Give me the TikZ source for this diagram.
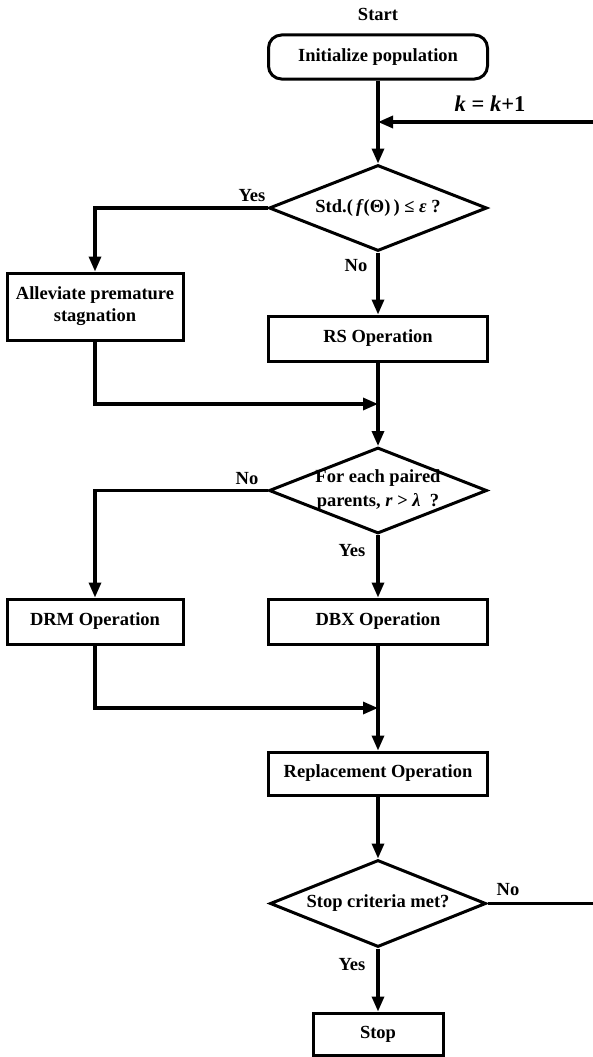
\documentclass[tikz,border=0pt]{standalone}
\usepackage{fontspec}
\setmainfont{Liberation Serif}
\usetikzlibrary{arrows.meta,shapes.geometric}
\begin{document}
\begin{tikzpicture}[x=1pt,y=-1pt,
  every node/.style={font=\fontsize{18.5}{21}\selectfont\bfseries},
  proc/.style={draw,line width=3pt,minimum width=219pt,minimum height=45pt,inner sep=0pt,align=center},
  term/.style={proc,rounded corners=13pt,minimum height=44pt},
  dec/.style={draw,diamond,line width=3pt,aspect=2.52,minimum width=218pt,minimum height=86pt,inner sep=0pt,align=center},
  lab/.style={inner sep=0pt},
  conn/.style={line width=3.2pt},
  arr/.style={conn,-{Triangle[length=15pt,width=12pt]}},
]
\useasboundingbox (0,0) rectangle (592,1057);
\node[lab] (start) at (378,14) {Start};
\node[term] (init) at (378,57) {Initialize population};
\node[dec] (d1) at (378,208) {Std.(\,\textit{f}(Θ)\,) ≤ \textit{ε} ?};
\node[proc,minimum width=176pt,minimum height=67pt,font=\fontsize{18.5}{22}\selectfont\bfseries] (allev) at (95,306.5) {Alleviate premature\\stagnation};
\node[proc] (rs) at (378,338.5) {RS Operation};
\node[dec,inner sep=-10pt,font=\fontsize{18.5}{24}\selectfont\bfseries] (d2) at (378,490.5) {For each paired\\parents, \textit{r} > \textit{λ}\enspace?};
\node[proc,minimum width=176pt] (drm) at (95,621.5) {DRM Operation};
\node[proc] (dbx) at (378,621.5) {DBX Operation};
\node[proc,minimum height=43pt] (rep) at (378,773.5) {Replacement Operation};
\node[dec,minimum width=216pt,minimum height=87pt] (d3) at (378,903.5) {Stop criteria met?};
\node[proc,minimum width=130pt,minimum height=42pt] (stop) at (378,1034) {Stop};

\coordinate (kin) at (378,122);
\coordinate (kright) at (594,122);
\coordinate (m1) at (378,404);
\coordinate (m2) at (378,708);
\coordinate (nright) at (594,903.5);

% labels
\node[lab,font=\fontsize{22.5}{24}\selectfont\bfseries] (klab) at (490,104) {\textit{k} = \textit{k}+1};
\node[lab] (y1) at (252,196) {Yes};
\node[lab] (n1) at (356,266) {No};
\node[lab] (n2) at (247,479) {No};
\node[lab] (y2) at (352,551) {Yes};
\node[lab] (n3) at (508,890) {No};
\node[lab] (y3) at (352,965) {Yes};

% connectors
\draw[conn] (init.south) -- (kin);
\draw[arr] (kin) -- (d1.north);
\draw[arr] (kright) -- (kin);
\draw[arr] (d1.west) -| (allev.north);
\draw[arr] (d1.south) -- (rs.north);
\draw[conn] (rs.south) -- (m1);
\draw[arr] (allev.south) |- (m1);
\draw[arr] (m1) -- (d2.north);
\draw[arr] (d2.west) -| (drm.north);
\draw[arr] (d2.south) -- (dbx.north);
\draw[conn] (dbx.south) -- (m2);
\draw[arr] (drm.south) |- (m2);
\draw[arr] (m2) -- (rep.north);
\draw[arr] (rep.south) -- (d3.north);
\draw[arr] (d3.south) -- (stop.north);
\draw[conn] (d3.east) -- (nright);
\end{tikzpicture}
\end{document}
